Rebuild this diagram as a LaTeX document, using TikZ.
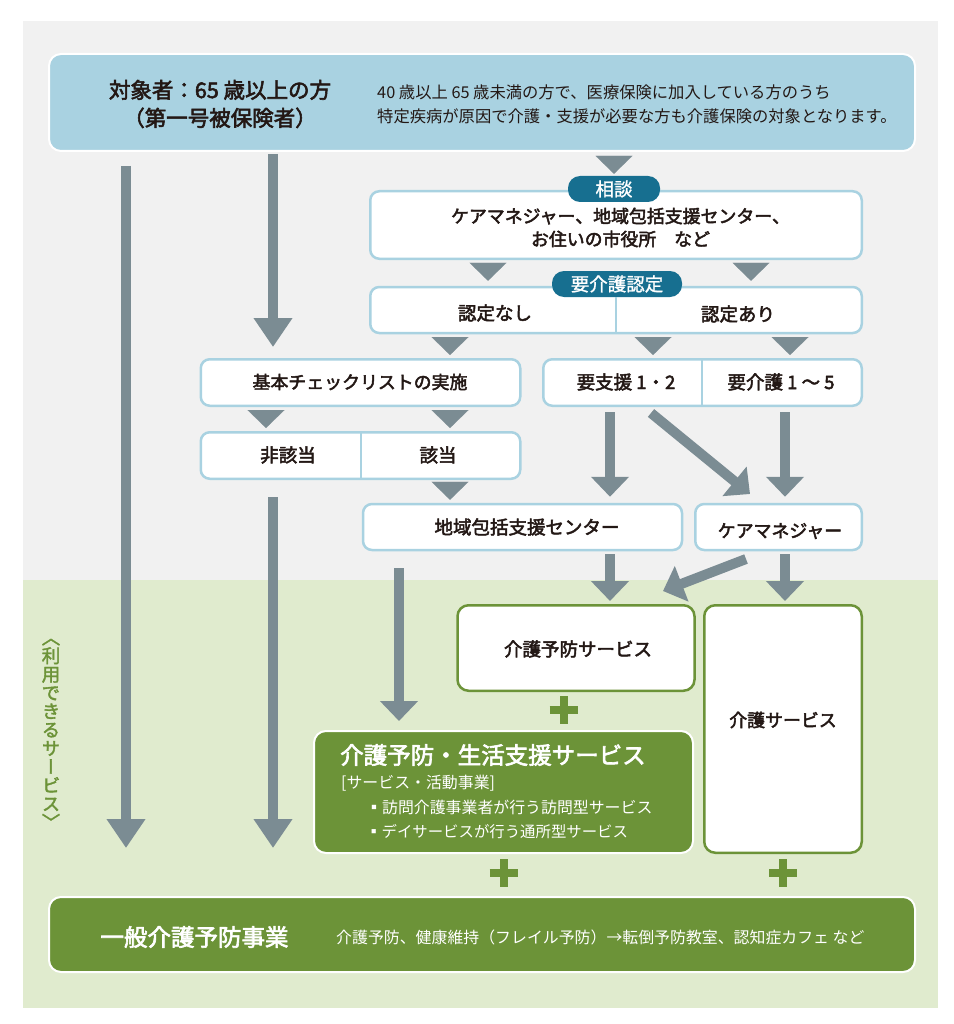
\documentclass[tikz,border=0pt]{standalone}
\usepackage{fontspec}
\setmainfont{Noto Sans CJK JP}
\newfontfamily\medfont[FakeBold=2.6]{Noto Sans CJK JP}
\newfontfamily\tagfont[FakeBold=1.2]{Noto Sans CJK JP}
\newfontfamily\vertfont[RawFeature={+vert},FakeBold=2]{Noto Sans CJK JP}
\usetikzlibrary{arrows.meta}
\usetikzlibrary{positioning}
\definecolor{paleblue}{HTML}{A9D2E1}
\definecolor{tagblue}{HTML}{176F90}
\definecolor{flowgray}{HTML}{7B8C93}
\definecolor{bggray}{HTML}{F1F1F1}
\definecolor{bggreen}{HTML}{E0EBCE}
\definecolor{leaf}{HTML}{6C9338}
\definecolor{ink}{HTML}{231815}
\begin{document}
\begin{tikzpicture}[x=1pt,y=-1pt,
    blue node/.style={draw=paleblue,line width=2.5pt,fill=white,rounded corners=9pt,inner sep=0pt},
    green node/.style={draw=leaf,line width=2.5pt,fill=white,rounded corners=11pt,inner sep=0pt},
    solid node/.style={draw=white,line width=2pt,fill=leaf,rounded corners=12pt,inner sep=0pt},
    tag node/.style={fill=tagblue,text=white,rounded corners=12pt,inner sep=0pt,font=\tagfont\fontsize{18.5}{20}\selectfont},
    label node/.style={inner sep=0pt,text=ink,align=center,font=\medfont\fontsize{17.9}{23}\selectfont},
    big label/.style={label node,font=\medfont\fontsize{18.5}{23}\selectfont},
    white text/.style={inner sep=0pt,text=white,align=left,anchor=west,font=\fontsize{15.9}{24}\selectfont},
    flow/.style={-{Triangle[width=37pt,length=20pt]},line width=10pt,color=flowgray},
    long flow/.style={-{Triangle[width=37pt,length=29pt]},line width=10pt,color=flowgray},
    tri/.style={-{Triangle[width=37pt,length=18pt]},line width=0.1pt,color=flowgray,shorten <=7pt,shorten >=3pt}]
   \useasboundingbox (0,0) rectangle (953,1024);
   \fill[bggray] (23,21) rectangle (938,580);
   \fill[bggreen] (23,580) rectangle (938,1008);
   % columns of the connectors
   \coordinate (col a) at (126,0);
   \coordinate (col b) at (273,0);
   \coordinate (col c) at (266,0);
   \coordinate (col d) at (450,0);
   \coordinate (col e) at (488,0);
   \coordinate (col f) at (751,0);
   \coordinate (col g) at (653,0);
   \coordinate (col h) at (790,0);
   \coordinate (col i) at (610,0);
   \coordinate (col j) at (785,0);
   \coordinate (col k) at (399,0);
   \coordinate (diag a) at (651,413);
   \coordinate (diag b) at (750,494);
   \coordinate (diag c) at (746,559);
   \coordinate (diag d) at (663,591);
   % boxes
   \node[minimum width=866pt,minimum height=97pt,draw=white,line width=2pt,fill=paleblue,rounded corners=12pt] (top) at (482,102.5) {};
   \node[blue node,minimum width=491.5pt,minimum height=67.5pt] (consult) at (616,225) {};
   \node[blue node,minimum width=491.5pt,minimum height=46pt] (cert) at (616,310) {};
   \node[blue node,minimum width=319.5pt,minimum height=46.5pt] (check) at (360.5,382.5) {};
   \node[blue node,minimum width=318.5pt,minimum height=46.5pt] (level) at (702.5,382.5) {};
   \node[blue node,minimum width=319.5pt,minimum height=46.5pt] (result) at (360.5,455.5) {};
   \node[blue node,minimum width=319pt,minimum height=46pt] (center) at (522.5,527) {};
   \node[blue node,minimum width=166.5pt,minimum height=46pt] (manager) at (778.5,527) {};
   \node[green node,minimum width=237pt,minimum height=85.5pt] (prevent) at (576,648) {};
   \node[green node,minimum width=157.5pt,minimum height=247.5pt] (care) at (783,729) {};
   \node[solid node,minimum width=379pt,minimum height=122pt] (life) at (503.5,792) {};
   \node[solid node,minimum width=866pt,minimum height=75pt] (general) at (482,934.5) {};
   \node[tag node,minimum width=92pt,minimum height=26pt] (tag a) at (614,189) {相談};
   \node[tag node,minimum width=130pt,minimum height=26pt] (tag b) at (617,284) {要介護認定};
   % split lines
   \draw[paleblue,line width=2pt] (tag b.south -| 616,0) -- (cert.south -| 616,0);
   \draw[paleblue,line width=2pt] (level.north -| 702,0) -- (level.south -| 702,0);
   \draw[paleblue,line width=2pt] (result.north -| 361,0) -- (result.south -| 361,0);
   % texts
   \node[label node,font=\medfont\fontsize{21.5}{28}\selectfont] (top title) at (220,104) {対象者：65 歳以上の方\\（第一号被保険者）};
   \node[label node,anchor=west,align=left,font=\fontsize{16.3}{24}\selectfont] (top note) at (377,104) {40 歳以上 65 歳未満の方で、医療保険に加入している方のうち\\特定疾病が原因で介護・支援が必要な方も介護保険の対象となります。};
   \node[label node] (consult text) at (620.5,227.5) {ケアマネジャー、地域包括支援センター、\\お住いの市役所　など};
   \node[big label] (no cert) at (495,313) {認定なし};
   \node[big label] (has cert) at (738,314) {認定あり};
   \node[label node] (check text) at (360,382) {基本チェックリストの実施};
   \node[big label] (level a) at (626,382) {要支援 1・2};
   \node[big label] (level b) at (781,382) {要介護 1 ～ 5};
   \node[big label] (result a) at (288,455) {非該当};
   \node[big label] (result b) at (438,455) {該当};
   \node[big label] (center text) at (527,527) {地域包括支援センター};
   \node[label node] (manager text) at (780,531) {ケアマネジャー};
   \node[big label] (prevent text) at (578,649) {介護予防サービス};
   \node[label node] (care text) at (783,720) {介護サービス};
   \node[white text,font=\medfont\fontsize{23.5}{28}\selectfont] (life title) at (340,755) {介護予防・生活支援サービス};
   \node[white text] (life sub) at (341,783) {[サービス・活動事業]};
   \node[white text] (life list) at (366,819) {▪訪問介護事業者が行う訪問型サービス\\\fontsize{15.4}{24}\selectfont ▪デイサービスが行う通所型サービス};
   \node[white text,anchor=center,font=\medfont\fontsize{23.5}{28}\selectfont] (general title) at (194.5,937) {一般介護予防事業};
   \node[white text,font=\fontsize{15.9}{24}\selectfont] (general note) at (336,937) {介護予防、健康維持（フレイル予防）→転倒予防教室、認知症カフェ など};
   \node[inner sep=0pt,text=leaf,align=center,font=\vertfont\fontsize{18.5}{18.5}\selectfont] (side) at (51,734) {〈\\利\\用\\で\\き\\る\\サ\\ー\\ビ\\ス\\〉};
   % small triangles
   \draw[tri,shorten >=2pt] (top.south -| tag a) -- (tag a.north);
   \draw[tri,shorten >=5pt] (consult.south -| col e) -- (cert.north -| col e);
   \draw[tri,shorten >=5pt] (consult.south -| col f) -- (cert.north -| col f);
   \draw[tri] (cert.south -| col d) -- (check.north -| col d);
   \draw[tri] (cert.south -| col g) -- (level.north -| col g);
   \draw[tri] (cert.south -| col h) -- (level.north -| col h);
   \draw[tri] (check.south -| col c) -- (result.north -| col c);
   \draw[tri] (check.south -| col d) -- (result.north -| col d);
   \draw[tri] (result.south -| col d) -- (center.north -| col d);
   % long arrows
   \draw[long flow,shorten <=14pt,shorten >=48pt] (top.south -| col a) -- (general.north -| col a);
   \draw[long flow,shorten <=2pt,shorten >=11pt] (top.south -| col b) -- (check.north -| col b);
   \draw[long flow,shorten <=17pt,shorten >=48pt] (result.south -| col b) -- (general.north -| col b);
   \draw[flow,shorten <=5pt,shorten >=6pt] (level.south -| col i) -- (center.north -| col i);
   \draw[flow,shorten <=5pt,shorten >=6pt] (level.south -| col j) -- (manager.north -| col j);
   \draw[flow] (diag a) -- (diag b);
   \draw[flow,shorten <=3pt,shorten >=3pt] (center.south -| col i) -- (prevent.north -| col i);
   \draw[flow,shorten <=3pt,shorten >=3pt] (manager.south -| col j) -- (care.north -| col j);
   \draw[flow] (diag c) -- (diag d);
   \draw[flow,shorten <=17pt,shorten >=9pt] (center.south -| col k) -- (life.north -| col k);
   % plus marks
   \foreach \px/\py in {563.5/710,503.5/873,783/873}
     \draw[leaf,line width=8pt] (\px-14,\py) -- (\px+14,\py) (\px,\py-14) -- (\px,\py+14);
\end{tikzpicture}
\end{document}
